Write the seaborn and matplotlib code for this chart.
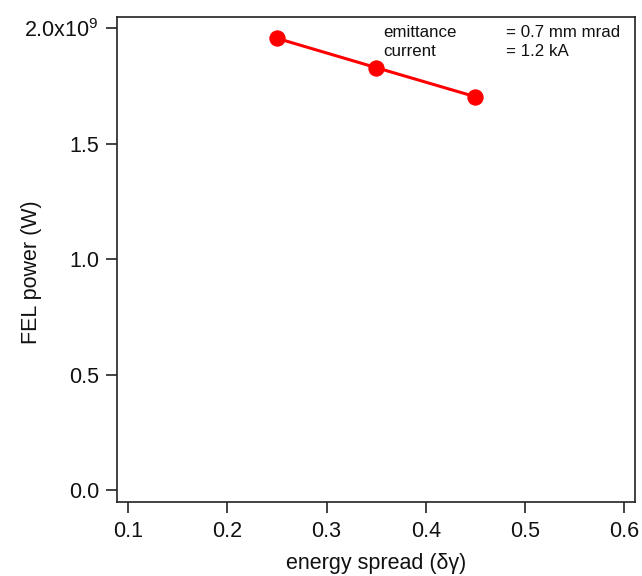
import matplotlib
matplotlib.use("Agg")
import matplotlib.pyplot as plt
import seaborn as sns
import pandas as pd

energy_spread = [0.25, 0.35, 0.45]
fel_power = [1.957e9, 1.830e9, 1.704e9]
y_ticks = [0.0, 0.5e9, 1.0e9, 1.5e9, 2.0e9]
y_tick_labels = ["0.0", "0.5", "1.0", "1.5", "2.0x10$^{9}$"]
x_ticks = [0.1, 0.2, 0.3, 0.4, 0.5, 0.6]
x_tick_labels = ["0.1", "0.2", "0.3", "0.4", "0.5", "0.6"]
params = ["emittance", "current"]
param_values = ["= 0.7 mm mrad", "= 1.2 kA"]

sns.set_style("ticks")
plt.rcParams["font.family"] = ["Liberation Sans", "DejaVu Sans"]
plt.rcParams["mathtext.fontset"] = "custom"
plt.rcParams["mathtext.rm"] = "Liberation Sans"
plt.rcParams["mathtext.it"] = "Liberation Sans:italic"

df = pd.DataFrame({"x": energy_spread, "y": fel_power})

L, R, T, B = 117, 635.3, 16.5, 501.7
fig = plt.figure(figsize=(6.42, 5.76), dpi=100)
ax = fig.add_axes([L/642, 1 - B/576, (R - L)/642, (B - T)/576])

sns.lineplot(data=df, x="x", y="y", ax=ax, color="#ff0000", linewidth=2.2,
             marker="o", markersize=11, markeredgecolor="#ff0000")

ax.set_xlim(0.0886, 0.6114)
ax.set_ylim(-0.0507e9, 2.0515e9)
ax.set_xticks(x_ticks)
ax.set_xticklabels(x_tick_labels)
ax.set_yticks(y_ticks)
ax.set_yticklabels(y_tick_labels)
ax.tick_params(axis="both", direction="out", length=8, width=1.2, labelsize=15.5,
               color="#222222", labelcolor="#111111")
ax.tick_params(axis="y", pad=5)
ax.tick_params(axis="x", pad=6)
for s in ax.spines.values():
    s.set_linewidth(1.2)
    s.set_color("#222222")

ax.set_xlabel("energy spread (δγ)", fontsize=15.5, color="#111111")
ax.set_ylabel("FEL power (W)", fontsize=15.5, color="#111111")
ax.xaxis.label.set_va("center")
ax.yaxis.label.set_va("center")
ax.xaxis.set_label_coords(0.5, (B - 563) / (B - T))
ax.yaxis.set_label_coords((32 - L) / (R - L), (B - 272) / (B - T))

to_ax = lambda px, py: ((px - L) / (R - L), (B - py) / (B - T))
for i, (p, v) in enumerate(zip(params, param_values)):
    yy = 32.3 + i * 19.4
    ax.text(*to_ax(383.3, yy), p, transform=ax.transAxes, fontsize=12.2,
            va="center", ha="left", color="#111111")
    ax.text(*to_ax(505.7, yy), v, transform=ax.transAxes, fontsize=12.2,
            va="center", ha="left", color="#111111")

fig.savefig("out.png", dpi=100)
